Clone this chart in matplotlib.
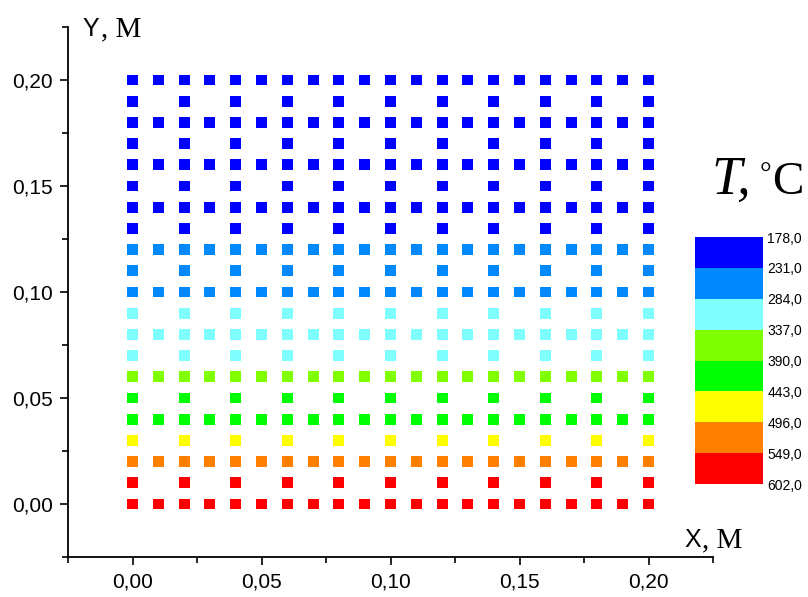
import matplotlib
matplotlib.use("Agg")
import matplotlib.pyplot as plt
from matplotlib.colors import ListedColormap, BoundaryNorm
import matplotlib.ticker as mticker

# ---- data ----
x_full = [0.00, 0.01, 0.02, 0.03, 0.04, 0.05, 0.06, 0.07, 0.08, 0.09, 0.10,
          0.11, 0.12, 0.13, 0.14, 0.15, 0.16, 0.17, 0.18, 0.19, 0.20]
x_half = [0.00, 0.02, 0.04, 0.06, 0.08, 0.10, 0.12, 0.14, 0.16, 0.18, 0.20]
y_rows = [0.00, 0.01, 0.02, 0.03, 0.04, 0.05, 0.06, 0.07, 0.08, 0.09, 0.10,
          0.11, 0.12, 0.13, 0.14, 0.15, 0.16, 0.17, 0.18, 0.19, 0.20]
row_density = ["full", "half", "full", "half", "full", "half", "full", "half",
               "full", "half", "full", "half", "full", "half", "full", "half",
               "full", "half", "full", "half", "full"]
row_T = [590, 565, 520, 470, 425, 400, 365, 320, 305, 290, 275,
         255, 240, 225, 215, 208, 200, 195, 190, 185, 180]
levels = [178.0, 231.0, 284.0, 337.0, 390.0, 443.0, 496.0, 549.0, 602.0]
level_colors = ["#0000FF", "#0088FF", "#80FFFF", "#80FF00",
                "#00FF00", "#FFFF00", "#FF8000", "#FF0000"]
x_ticks = [0.00, 0.05, 0.10, 0.15, 0.20]
y_ticks = [0.00, 0.05, 0.10, 0.15, 0.20]

# ---- build points ----
px, py, pt = [], [], []
for y, dens, t in zip(y_rows, row_density, row_T):
    xs = x_full if dens == "full" else x_half
    for x in xs:
        px.append(x)
        py.append(y)
        pt.append(t)

W, H = 808, 597
fig = plt.figure(figsize=(W / 100, H / 100), dpi=100)
plt.rcParams['font.family'] = ['Liberation Sans', 'DejaVu Sans']

ax = fig.add_axes([68 / W, 1 - 557 / H, (713 - 68) / W, (557 - 27) / H])
cmap = ListedColormap(level_colors)
norm = BoundaryNorm(levels, cmap.N)
sc = ax.scatter(px, py, c=pt, cmap=cmap, norm=norm, marker='s', s=62,
                linewidths=0)

ax.set_xlim(-0.025, 0.225)
ax.set_ylim(-0.025, 0.225)
ax.spines['top'].set_visible(False)
ax.spines['right'].set_visible(False)
for sp in ('left', 'bottom'):
    ax.spines[sp].set_linewidth(1.3)

fmt = mticker.FuncFormatter(lambda v, p: f"{v:.2f}".replace('.', ','))
ax.set_xticks(x_ticks)
ax.set_yticks(y_ticks)
ax.xaxis.set_major_formatter(fmt)
ax.yaxis.set_major_formatter(fmt)
minor = [-0.025, 0.025, 0.075, 0.125, 0.175, 0.225]
ax.xaxis.set_minor_locator(mticker.FixedLocator(minor))
ax.yaxis.set_minor_locator(mticker.FixedLocator(minor))
ax.tick_params(which='major', direction='out', length=6, width=1.2,
               labelsize=15, pad=5)
ax.tick_params(which='minor', direction='out', length=4, width=1.2)

def ptext(x, y, s, **kw):
    fig.text(x / W, 1 - y / H, s, **kw)

# axis labels
ptext(82, 36, "Y", fontsize=18, family='Liberation Sans', va='baseline', ha='left')
ptext(101, 36, ", M", fontsize=21, family='Liberation Serif', va='baseline', ha='left')
ptext(684, 547, "X", fontsize=18, family='Liberation Sans', va='baseline', ha='left')
ptext(702, 547, ", M", fontsize=21, family='Liberation Serif', va='baseline', ha='left')

# colorbar title
ptext(711, 194, "T,", fontsize=39, family='Liberation Serif', style='italic',
      va='baseline', ha='left')
ptext(760, 183, "°", fontsize=21, family='Liberation Serif', va='baseline', ha='left')
ptext(772, 194, "C", fontsize=34, family='Liberation Serif', va='baseline', ha='left')

# colorbar
cax = fig.add_axes([695 / W, 1 - 484 / H, 68 / W, (484 - 237) / H])
cb = fig.colorbar(sc, cax=cax, ticks=levels, spacing='uniform')
cax.invert_yaxis()
cb.outline.set_visible(False)
cax.set_yticks(levels)
cax.set_yticklabels([f"{v:.1f}".replace('.', ',') for v in levels])
cax.tick_params(length=0, labelsize=10, pad=3)

fig.savefig("out.png", dpi=100)
